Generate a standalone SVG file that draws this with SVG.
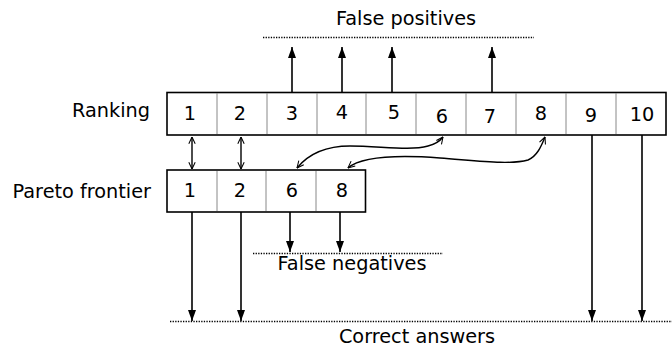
<svg xmlns="http://www.w3.org/2000/svg" width="672" height="348" viewBox="0 0 672 348">
<style>
text{font-family:"DejaVu Sans","Liberation Sans",sans-serif;font-size:19.3px;fill:#000}
.c{text-anchor:middle}
.box{fill:#fff;stroke:#000;stroke-width:1.6}
.div{stroke:#888;stroke-width:1}
.ln{stroke:#000;stroke-width:1.6;fill:none}
.dot{stroke:#000;stroke-width:1.3;stroke-dasharray:1.3 1.3;fill:none}
.da{marker-end:url(#fa)}
.cv{stroke:#000;stroke-width:1.4;fill:none;marker-start:url(#oa);marker-end:url(#oa)}
</style>
<defs>
<marker id="fa" viewBox="0 0 10 10" refX="10" refY="5" markerWidth="11" markerHeight="8" markerUnits="userSpaceOnUse" orient="auto" preserveAspectRatio="none">
<path d="M0,0L10,5L0,10z" fill="#000"/>
</marker>
<marker id="oa" viewBox="0 0 10 10" refX="9.5" refY="5" markerWidth="8" markerHeight="8" markerUnits="userSpaceOnUse" orient="auto-start-reverse">
<path d="M1,1L9.5,5L1,9" fill="none" stroke="#000" stroke-width="1.3"/>
</marker>
</defs>
<g id="labels">
<text x="150" y="117" text-anchor="end">Ranking</text>
<text x="151" y="198" text-anchor="end">Pareto frontier</text>
<text class="c" x="406" y="25">False positives</text>
<text class="c" x="352" y="270">False negatives</text>
<text class="c" x="417" y="343">Correct answers</text>
</g>
<g id="ranking">
<rect class="box" x="167" y="92.5" width="499" height="42.5"/>
<path class="div" d="M217,93V134M267,93V134M317,93V134M366,93V134M416,93V134M466,93V134M516,93V134M566,93V134M616,93V134"/>
<text class="c" x="190" y="120">1</text>
<text class="c" x="240" y="120">2</text>
<text class="c" x="292" y="120">3</text>
<text class="c" x="342" y="119">4</text>
<text class="c" x="394" y="119">5</text>
<text class="c" x="442" y="123">6</text>
<text class="c" x="490" y="123">7</text>
<text class="c" x="541" y="120">8</text>
<text class="c" x="591" y="122">9</text>
<text class="c" x="642" y="121">10</text>
</g>
<g id="pareto">
<rect class="box" x="167" y="170" width="198.5" height="42"/>
<path class="div" d="M217,171V211M266,171V211M316,171V211"/>
<text class="c" x="190" y="197">1</text>
<text class="c" x="240" y="197">2</text>
<text class="c" x="292" y="197">6</text>
<text class="c" x="342" y="197">8</text>
</g>
<g id="connectors">
<path class="dot" d="M263,37.5H534"/>
<path class="dot" d="M253,253.5H443"/>
<path class="dot" d="M170,321.5H672"/>
<path class="ln da" d="M292,92V47"/>
<path class="ln da" d="M342,92V47"/>
<path class="ln da" d="M392,92V47"/>
<path class="ln da" d="M492,92V47"/>
<path class="ln da" d="M290,212V252"/>
<path class="ln da" d="M340,212V252"/>
<path class="ln da" d="M192,212V321"/>
<path class="ln da" d="M241,212V321"/>
<path class="ln da" d="M592,135V321"/>
<path class="ln da" d="M642,135V321"/>
<path class="cv" d="M192,137V169"/>
<path class="cv" d="M241,137V169"/>
<path class="cv" d="M297,168C310,152 328,146 350,146C380,146 410,151 428,146C436,144 440,141 443,137"/>
<path class="cv" d="M348,168C362,156 400,155 440,158C480,161 510,165 528,160C537,156 541,147 545,137"/>
</g>
</svg>
